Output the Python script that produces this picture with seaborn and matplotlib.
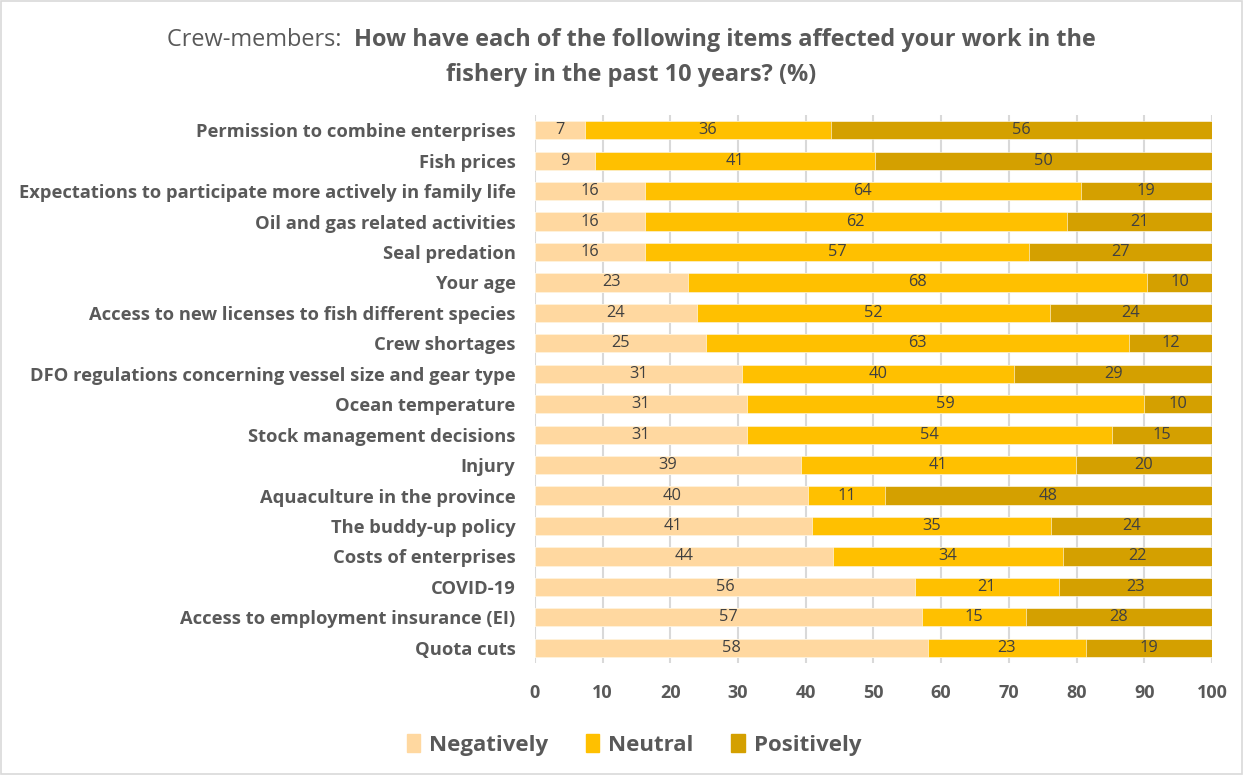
import matplotlib
matplotlib.use("Agg")
import matplotlib.pyplot as plt
import matplotlib.patches as mpatches
import seaborn as sns
import pandas as pd

# Survey items (top to bottom)
items = [
    "Permission to combine enterprises",
    "Fish prices",
    "Expectations to participate more actively in family life",
    "Oil and gas related activities",
    "Seal predation",
    "Your age",
    "Access to new licenses to fish different species",
    "Crew shortages",
    "DFO regulations concerning vessel size and gear type",
    "Ocean temperature",
    "Stock management decisions",
    "Injury",
    "Aquaculture in the province",
    "The buddy-up policy",
    "Costs of enterprises",
    "COVID-19",
    "Access to employment insurance (EI)",
    "Quota cuts",
]

# Share of respondents (%) per response
negatively = [7.4, 8.9, 16.2, 16.2, 16.2, 22.6, 23.9, 25.2, 30.6, 31.3, 31.3, 39.3, 40.4, 40.9, 44.0, 56.1, 57.2, 58.0]
neutral    = [36.3, 41.4, 64.4, 62.4, 56.8, 67.8, 52.2, 62.6, 40.2, 58.6, 53.9, 40.6, 11.3, 35.4, 34.0, 21.3, 15.3, 23.4]
positively = [56.3, 49.7, 19.4, 21.4, 27.0, 9.6, 23.9, 12.2, 29.2, 10.1, 14.8, 20.1, 48.3, 23.7, 22.0, 22.6, 27.5, 18.6]

series_names = ["Negatively", "Neutral", "Positively"]
series_colors = ["#FFD8A0", "#FFC000", "#D4A000"]
x_ticks = [0, 10, 20, 30, 40, 50, 60, 70, 80, 90, 100]

df = pd.DataFrame({
    "item": items,
    "Negatively": negatively,
    "Neutral": neutral,
    "Positively": positively,
})
df["cum_neg"] = df["Negatively"]
df["cum_neu"] = df["cum_neg"] + df["Neutral"]
df["cum_pos"] = df["cum_neu"] + df["Positively"]

sns.set_theme(style="white")
FONT = ["Open Sans", "DejaVu Sans"]
plt.rcParams["font.family"] = FONT
TXT = "#595959"

fig = plt.figure(figsize=(12.43, 7.75), dpi=100)
ax = fig.add_axes([0.4304, 0.1445, 0.5446, 0.7071])

# Stacked bars: draw cumulative totals from the outermost layer inward
for col, color in zip(["cum_pos", "cum_neu", "cum_neg"], series_colors[::-1]):
    sns.barplot(data=df, x=col, y="item", color=color, orient="h",
                width=0.6, edgecolor="white", linewidth=0.4, ax=ax,
                saturation=1)

# Value labels centred in each segment
for i, row in df.iterrows():
    starts = [0, row["cum_neg"], row["cum_neu"]]
    for start, name in zip(starts, series_names):
        v = row[name]
        ax.text(start + v / 2, i, f"{v:.0f}", ha="center", va="center",
                fontsize=11.8, color="#404040")

ax.set_xlim(0, 100)
ax.set_xticks(x_ticks)
ax.set_xticklabels([str(t) for t in x_ticks], fontsize=13, fontweight="bold", color=TXT)
ax.tick_params(axis="x", length=0, pad=15)
ax.tick_params(axis="y", length=0, pad=14)
for lbl in ax.get_yticklabels():
    lbl.set_fontsize(13.2)
    lbl.set_fontweight("bold")
    lbl.set_color(TXT)
ax.set_xlabel("")
ax.set_ylabel("")
ax.xaxis.grid(True, color="#D9D9D9", linewidth=1.5)
ax.set_axisbelow(True)
for s in ax.spines.values():
    s.set_visible(False)

# Legend
handles = [mpatches.Patch(color=c, label=n) for n, c in zip(series_names, series_colors)]
fig.legend(handles=handles, loc="center", bbox_to_anchor=(0.510, 0.039), ncol=3,
           frameon=False, prop={"family": FONT, "weight": "bold", "size": 16},
           labelcolor=TXT, handlelength=0.6, handleheight=0.9, handletextpad=0.4,
           columnspacing=1.7)

# Title with a normal-weight prefix followed by bold text
prefix = "Crew-members:  "
bold1 = "How have each of the following items affected your work in the"
line2 = "fishery in the past 10 years? (%)"
tsize = 16.9
cx = 0.508
renderer = fig.canvas.get_renderer()
t_a = fig.text(0, 0.948, prefix, fontsize=tsize, color=TXT, va="center", ha="left")
t_b = fig.text(0, 0.948, bold1, fontsize=tsize, color=TXT, va="center", ha="left", fontweight="bold")
wa = t_a.get_window_extent(renderer).width / fig.bbox.width
wb = t_b.get_window_extent(renderer).width / fig.bbox.width
x0 = cx - (wa + wb) / 2
t_a.set_x(x0)
t_b.set_x(x0 + wa)
fig.text(cx, 0.903, line2, fontsize=tsize, color=TXT, va="center", ha="center", fontweight="bold")

# Light border round the chart area
fig.patches.append(mpatches.Rectangle((0.001, 0.001), 0.998, 0.998, transform=fig.transFigure,
                                      fill=False, edgecolor="#D9D9D9", linewidth=1.2))

fig.savefig("out.png", dpi=100, facecolor="white")
